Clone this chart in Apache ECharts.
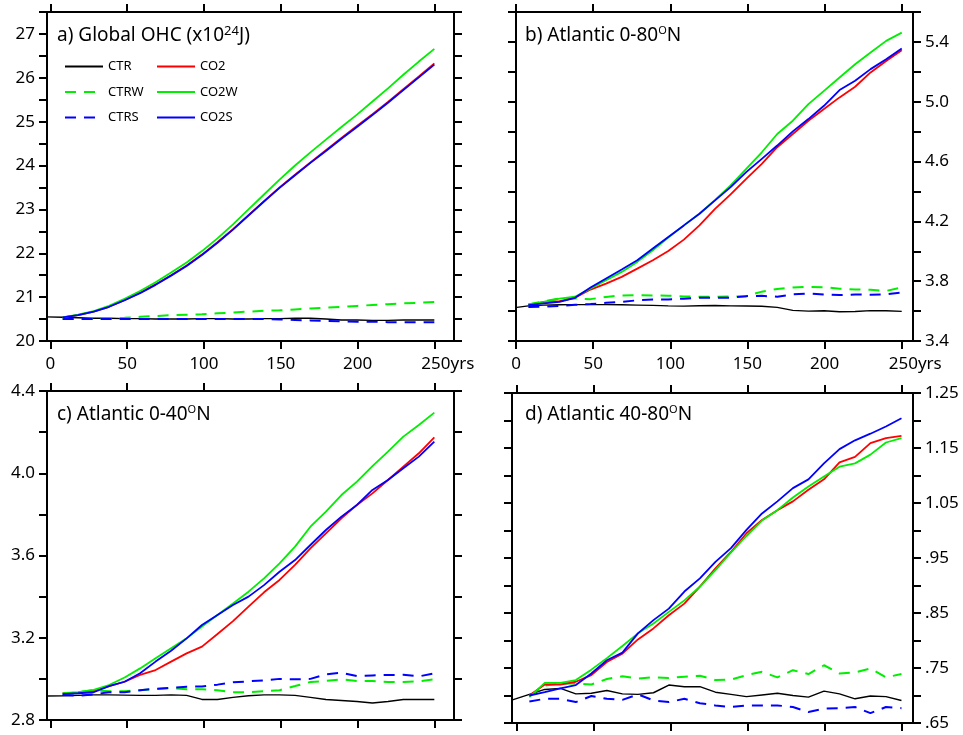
<!DOCTYPE html>
<html><head><meta charset="utf-8">
<script src="https://cdn.jsdelivr.net/npm/echarts@6/dist/echarts.min.js"></script>
<style>html,body{margin:0;padding:0;background:#fff}#c{width:963px;height:735px}</style>
</head><body><div id="c"></div>
<script>
// ---------- data ----------
const years = [8, 18, 28.2, 38.2, 48.3, 58.4, 68.5, 78.6, 88.7, 98.7, 108.8, 118.9, 129, 139.1, 149.2, 159.3, 169.3, 179.4, 189.5, 199.6, 209.7, 219.8, 229.8, 239.9, 250];
const yearsCTR = [-3, 8, 18, 28.2, 38.2, 48.3, 58.4, 68.5, 78.6, 88.7, 98.7, 108.8, 118.9, 129, 139.1, 149.2, 159.3, 169.3, 179.4, 189.5, 199.6, 209.7, 219.8, 229.8, 239.9, 250];
const seriesNames = ['CTR', 'CTRW', 'CTRS', 'CO2', 'CO2W', 'CO2S'];
const xTickValues = [0, 50, 100, 150, 200, 250];

// a) Global OHC
const a_CTR  = [20.55, 20.54, 20.53, 20.52, 20.52, 20.51, 20.51, 20.50, 20.50, 20.50, 20.51, 20.51, 20.50, 20.50, 20.51, 20.51, 20.52, 20.52, 20.50, 20.48, 20.48, 20.47, 20.47, 20.48, 20.48, 20.48];
const a_CTRW = [20.50, 20.50, 20.51, 20.52, 20.53, 20.55, 20.57, 20.59, 20.60, 20.61, 20.63, 20.65, 20.67, 20.69, 20.70, 20.72, 20.74, 20.76, 20.78, 20.80, 20.82, 20.84, 20.86, 20.87, 20.89];
const a_CTRS = [20.50, 20.50, 20.50, 20.50, 20.50, 20.50, 20.50, 20.50, 20.50, 20.50, 20.50, 20.50, 20.50, 20.50, 20.49, 20.48, 20.47, 20.46, 20.45, 20.44, 20.44, 20.43, 20.43, 20.43, 20.43];
const a_CO2  = [20.54, 20.59, 20.67, 20.78, 20.93, 21.10, 21.29, 21.50, 21.72, 21.97, 22.25, 22.55, 22.87, 23.19, 23.50, 23.79, 24.07, 24.35, 24.63, 24.90, 25.17, 25.45, 25.74, 26.03, 26.33];
const a_CO2W = [20.54, 20.60, 20.68, 20.80, 20.96, 21.14, 21.34, 21.56, 21.79, 22.05, 22.34, 22.66, 23.00, 23.34, 23.68, 24.00, 24.30, 24.59, 24.88, 25.16, 25.46, 25.76, 26.07, 26.37, 26.66];
const a_CO2S = [20.54, 20.59, 20.67, 20.78, 20.93, 21.09, 21.28, 21.49, 21.71, 21.96, 22.24, 22.54, 22.86, 23.18, 23.49, 23.78, 24.06, 24.33, 24.61, 24.88, 25.15, 25.43, 25.72, 26.01, 26.30];

// b) Atlantic 0-80N
const b_CTR  = [3.620, 3.635, 3.640, 3.642, 3.643, 3.643, 3.643, 3.642, 3.640, 3.638, 3.635, 3.633, 3.636, 3.637, 3.635, 3.634, 3.632, 3.625, 3.605, 3.600, 3.602, 3.596, 3.597, 3.603, 3.602, 3.598];
const b_CTRW = [3.645, 3.665, 3.685, 3.684, 3.680, 3.695, 3.705, 3.706, 3.705, 3.703, 3.698, 3.696, 3.696, 3.697, 3.700, 3.730, 3.748, 3.758, 3.762, 3.760, 3.750, 3.745, 3.742, 3.735, 3.758];
const b_CTRS = [3.628, 3.629, 3.635, 3.642, 3.647, 3.655, 3.662, 3.672, 3.678, 3.678, 3.683, 3.689, 3.689, 3.690, 3.700, 3.702, 3.696, 3.712, 3.718, 3.710, 3.707, 3.711, 3.710, 3.712, 3.724];
const b_CO2  = [3.640, 3.662, 3.667, 3.689, 3.744, 3.784, 3.829, 3.884, 3.940, 4.002, 4.078, 4.173, 4.284, 4.380, 4.484, 4.584, 4.696, 4.784, 4.873, 4.951, 5.029, 5.100, 5.196, 5.273, 5.344];
const b_CO2W = [3.644, 3.662, 3.684, 3.696, 3.751, 3.807, 3.862, 3.929, 4.007, 4.091, 4.173, 4.251, 4.344, 4.440, 4.551, 4.662, 4.784, 4.873, 4.984, 5.073, 5.162, 5.251, 5.329, 5.407, 5.462];
const b_CO2S = [3.640, 3.651, 3.662, 3.689, 3.758, 3.818, 3.878, 3.940, 4.018, 4.096, 4.173, 4.251, 4.340, 4.429, 4.529, 4.618, 4.707, 4.802, 4.884, 4.973, 5.078, 5.140, 5.218, 5.284, 5.356];

// c) Atlantic 0-40N
const c_CTR  = [2.917, 2.918, 2.920, 2.922, 2.922, 2.921, 2.920, 2.920, 2.922, 2.920, 2.900, 2.900, 2.910, 2.918, 2.922, 2.922, 2.920, 2.910, 2.900, 2.895, 2.890, 2.883, 2.890, 2.900, 2.900, 2.900];
const c_CTRW = [2.925, 2.935, 2.945, 2.940, 2.940, 2.945, 2.950, 2.955, 2.950, 2.950, 2.945, 2.935, 2.935, 2.940, 2.945, 2.965, 2.985, 2.990, 2.998, 2.990, 2.990, 2.985, 2.985, 2.988, 2.998];
const c_CTRS = [2.922, 2.918, 2.925, 2.935, 2.935, 2.945, 2.952, 2.957, 2.962, 2.963, 2.972, 2.983, 2.988, 2.993, 3.000, 2.998, 3.000, 3.022, 3.030, 3.014, 3.017, 3.019, 3.020, 3.012, 3.027];
const c_CO2  = [2.930, 2.933, 2.941, 2.965, 2.986, 3.019, 3.043, 3.084, 3.124, 3.157, 3.218, 3.281, 3.351, 3.421, 3.481, 3.554, 3.635, 3.708, 3.781, 3.846, 3.902, 3.967, 4.032, 4.097, 4.175];
const c_CO2W = [2.930, 2.935, 2.946, 2.970, 3.007, 3.051, 3.100, 3.149, 3.197, 3.254, 3.311, 3.367, 3.424, 3.489, 3.562, 3.643, 3.740, 3.813, 3.894, 3.959, 4.035, 4.105, 4.178, 4.235, 4.295];
const c_CO2S = [2.926, 2.930, 2.935, 2.965, 2.986, 3.027, 3.084, 3.137, 3.197, 3.262, 3.311, 3.359, 3.400, 3.456, 3.521, 3.578, 3.651, 3.724, 3.789, 3.846, 3.919, 3.967, 4.024, 4.081, 4.154];

// d) Atlantic 40-80N
const d_CTR  = [0.692, 0.702, 0.711, 0.713, 0.703, 0.704, 0.709, 0.703, 0.702, 0.705, 0.719, 0.716, 0.716, 0.706, 0.702, 0.698, 0.701, 0.704, 0.700, 0.697, 0.708, 0.703, 0.694, 0.699, 0.698, 0.691];
const d_CTRW = [0.700, 0.718, 0.722, 0.722, 0.720, 0.730, 0.735, 0.731, 0.733, 0.732, 0.734, 0.736, 0.728, 0.729, 0.737, 0.743, 0.733, 0.746, 0.739, 0.755, 0.740, 0.742, 0.749, 0.733, 0.739];
const d_CTRS = [0.689, 0.694, 0.694, 0.688, 0.699, 0.694, 0.692, 0.702, 0.691, 0.688, 0.694, 0.686, 0.682, 0.679, 0.682, 0.682, 0.682, 0.679, 0.670, 0.676, 0.677, 0.679, 0.668, 0.679, 0.677];
const d_CO2  = [0.700, 0.720, 0.720, 0.725, 0.737, 0.761, 0.776, 0.802, 0.822, 0.846, 0.867, 0.898, 0.931, 0.961, 0.995, 1.019, 1.037, 1.053, 1.074, 1.093, 1.124, 1.134, 1.159, 1.168, 1.172];
const d_CO2W = [0.697, 0.723, 0.723, 0.728, 0.747, 0.768, 0.790, 0.813, 0.831, 0.852, 0.873, 0.898, 0.928, 0.960, 0.990, 1.018, 1.037, 1.060, 1.080, 1.098, 1.116, 1.122, 1.138, 1.160, 1.168];
const d_CO2S = [0.700, 0.706, 0.713, 0.719, 0.740, 0.764, 0.778, 0.813, 0.837, 0.858, 0.889, 0.913, 0.943, 0.968, 1.001, 1.031, 1.053, 1.077, 1.093, 1.122, 1.148, 1.164, 1.176, 1.189, 1.204];

// tick labels
const aYLabels = [20, 21, 22, 23, 24, 25, 26, 27];
const bYLabels = [3.4, 3.8, 4.2, 4.6, 5.0, 5.4];
const cYLabels = [2.8, 3.2, 3.6, 4.0, 4.4];
const dYLabels = [0.65, 0.75, 0.85, 0.95, 1.05, 1.15, 1.25];

const titles = ['a) Global OHC (x10{sup|24}J)', 'b) Atlantic 0-80{deg|O}N', 'c) Atlantic 0-40{deg|O}N', 'd) Atlantic 40-80{deg|O}N'];

// ---------- chart ----------
const FONT = 'Noto Sans';
const panelData = [
  [a_CTR, a_CTRW, a_CTRS, a_CO2, a_CO2W, a_CO2S],
  [b_CTR, b_CTRW, b_CTRS, b_CO2, b_CO2W, b_CO2S],
  [c_CTR, c_CTRW, c_CTRS, c_CO2, c_CO2W, c_CO2S],
  [d_CTR, d_CTRW, d_CTRS, d_CO2, d_CO2W, d_CO2S]
];
const layout = [
  {left: 47, top: 12, width: 407, height: 329, xmin: -2.2, xmax: 262.8, ymin: 20, ymax: 27.5, step: 0.5, side: 'left', xLab: true, yLabels: aYLabels, fmt: v => String(Math.round(v))},
  {left: 516, top: 12, width: 397, height: 329, xmin: 0, xmax: 257.3, ymin: 3.4, ymax: 5.6, step: 0.2, side: 'right', xLab: true, yLabels: bYLabels, fmt: v => v.toFixed(1)},
  {left: 47, top: 391, width: 407, height: 329, xmin: -2.2, xmax: 262.8, ymin: 2.8, ymax: 4.4, step: 0.2, side: 'left', xLab: false, yLabels: cYLabels, fmt: v => v.toFixed(1)},
  {left: 512, top: 393, width: 401, height: 330, xmin: -3.3, xmax: 257.5, ymin: 0.65, ymax: 1.25, step: 0.05, side: 'right', xLab: false, yLabels: dYLabels, fmt: v => (v < 1 ? v.toFixed(2).slice(1) : v.toFixed(2))}
];
const styles = [
  {color: '#000000', type: 'solid', width: 1.4},
  {color: '#00ee00', type: [11, 8], width: 2},
  {color: '#0000ff', type: [11, 8], width: 2},
  {color: '#ff0000', type: 'solid', width: 1.8},
  {color: '#00ee00', type: 'solid', width: 1.8},
  {color: '#0000ff', type: 'solid', width: 1.8}
];
const axisLine = {show: true, onZero: false, lineStyle: {color: '#000', width: 2}};
const tickStyle = {color: '#000', width: 2};
const labelText = {color: '#000', fontSize: 17, fontFamily: FONT};

const grid = [], xAxis = [], yAxis = [], series = [], title = [];
layout.forEach((L, i) => {
  grid.push({left: L.left, top: L.top, width: L.width, height: L.height, containLabel: false});
  ['bottom', 'top'].forEach(pos => {
    xAxis.push({
      gridIndex: i, type: 'value', position: pos, min: L.xmin, max: L.xmax,
      axisLine, splitLine: {show: false},
      axisTick: {show: true, inside: false, length: 8, lineStyle: tickStyle, customValues: xTickValues},
      axisLabel: Object.assign({show: pos === 'bottom' && L.xLab, customValues: xTickValues, margin: 15,
        formatter: v => (v === 250 ? '{pad|}250yrs' : String(v)),
        rich: {pad: {width: 27}}}, labelText)
    });
  });
  ['left', 'right'].forEach(pos => {
    yAxis.push({
      gridIndex: i, type: 'value', position: pos, min: L.ymin, max: L.ymax, interval: L.step,
      axisLine, splitLine: {show: false},
      axisTick: {show: true, inside: false, length: 8, lineStyle: tickStyle},
      axisLabel: Object.assign({show: pos === L.side, customValues: L.yLabels, margin: 12, formatter: L.fmt}, labelText)
    });
  });
  panelData[i].forEach((arr, k) => {
    const xs = k === 0 ? yearsCTR : years;
    series.push({
      name: seriesNames[k], type: 'line', xAxisIndex: 2 * i, yAxisIndex: 2 * i,
      data: arr.map((v, j) => [xs[j], v]),
      symbol: 'none', showSymbol: false, clip: true, animation: false,
      color: styles[k].color,
      lineStyle: {color: styles[k].color, width: styles[k].width, type: styles[k].type},
      z: 3 + k
    });
  });
  title.push({
    text: titles[i], left: [57, 525, 57, 525][i], top: [25, 25, 404, 404][i], padding: 0,
    textStyle: {fontSize: 19, fontWeight: 'normal', fontFamily: FONT, color: '#000', lineHeight: 22,
      rich: {
        sup: {fontSize: 13, fontFamily: FONT, color: '#000', lineHeight: 13, verticalAlign: 'top'},
        deg: {fontSize: 11, fontFamily: FONT, color: '#000', lineHeight: 12, verticalAlign: 'top'}
      }}
  });
});

const legendCommon = {orient: 'vertical', itemWidth: 38, itemHeight: 14, itemGap: 12.5, selectedMode: false,
  itemStyle: {color: 'rgba(0,0,0,0)', borderColor: 'rgba(0,0,0,0)', borderWidth: 0, opacity: 0},
  textStyle: {fontSize: 13, fontFamily: FONT, color: '#000'}, padding: 0};
const option = {
  backgroundColor: '#fff',
  animation: false,
  title, grid, xAxis, yAxis, series,
  legend: [
    Object.assign({left: 64, top: 60, data: ['CTR', 'CTRW', 'CTRS']}, legendCommon),
    Object.assign({left: 156, top: 60, data: ['CO2', 'CO2W', 'CO2S']}, legendCommon)
  ]
};
const chart = echarts.init(document.getElementById('c'));
chart.setOption(option);
</script></body></html>
